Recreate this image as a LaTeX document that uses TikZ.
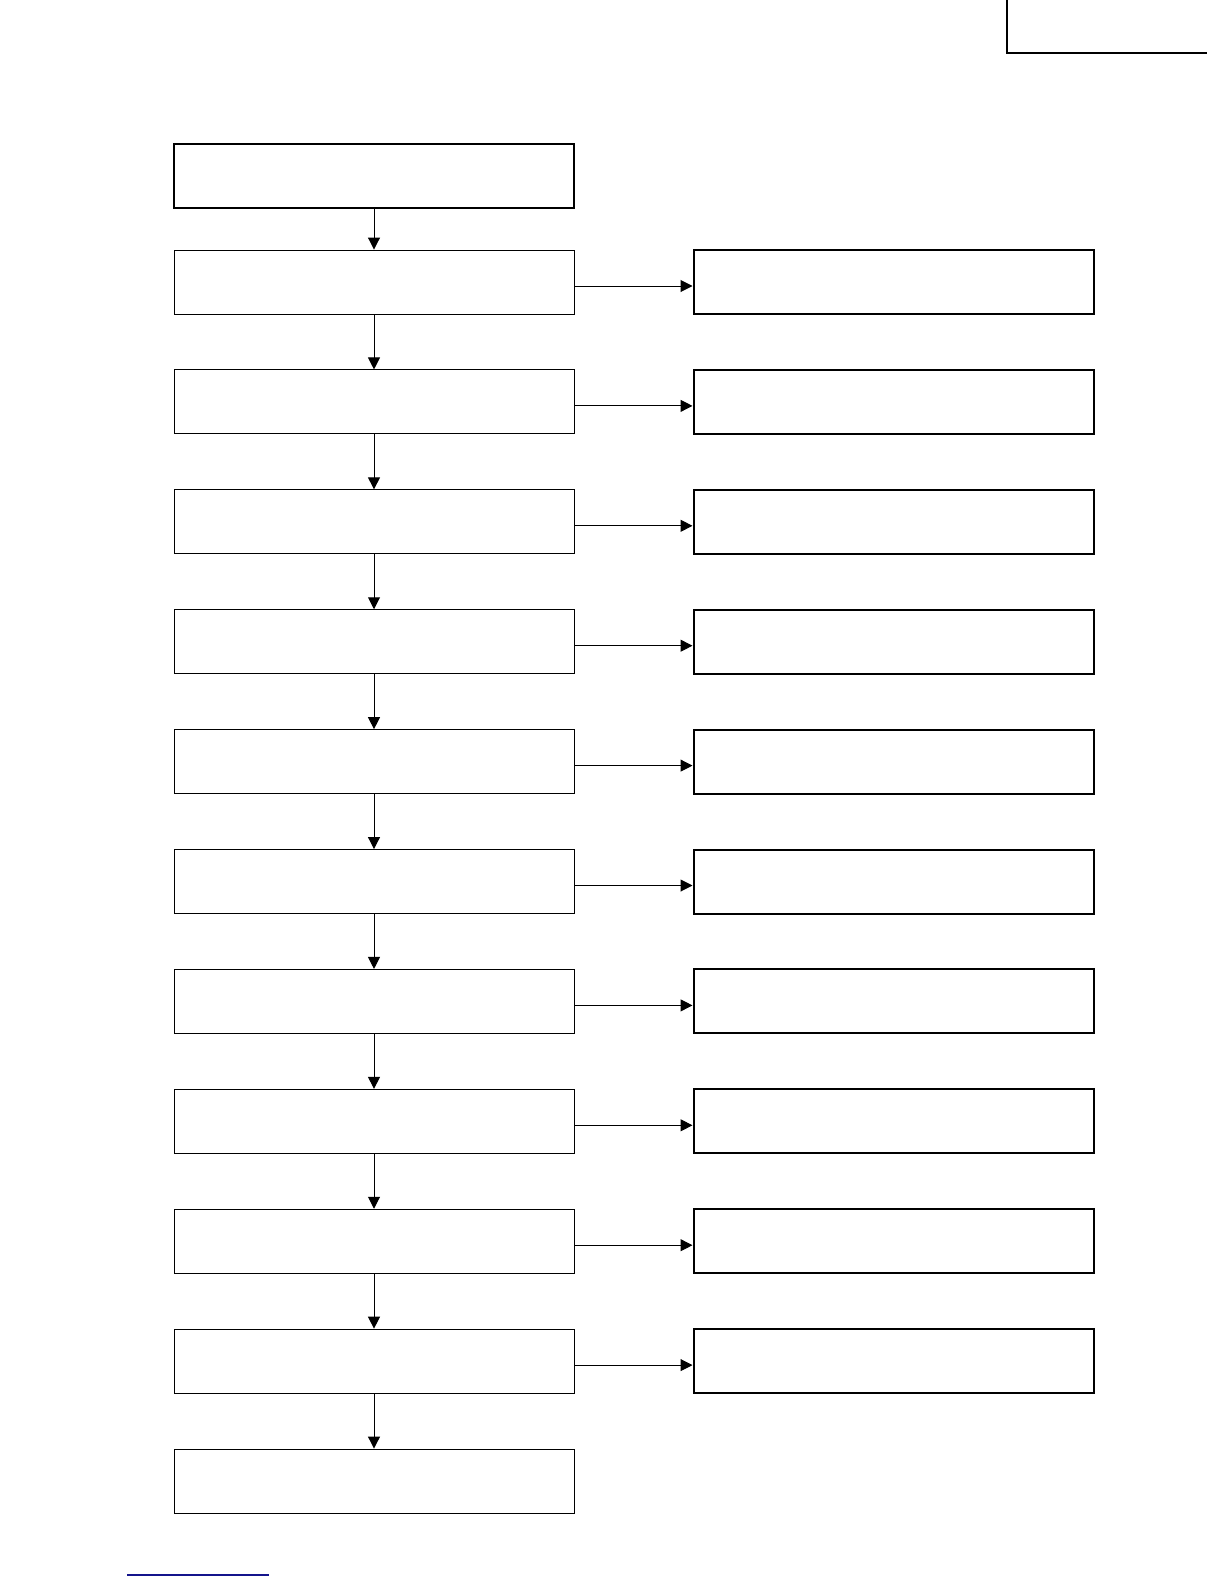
\documentclass[tikz,border=0pt]{standalone}
\usetikzlibrary{arrows.meta}
\definecolor{linkblue}{RGB}{20,20,140}
\begin{document}
\begin{tikzpicture}[x=1pt,y=-1pt,
    stepbox/.style={draw,line width=0.9pt,minimum width=400pt,minimum height=64pt,inner sep=0pt},
    sidebox/.style={stepbox,line width=2pt},
    flow/.style={line width=1pt,-{Triangle[length=12pt,width=12pt]}}]

    \useasboundingbox (0,0) rectangle (1224,1584);

    \draw[line width=2.5pt] (1007,0) -- (1007,53) -- (1207,53);

    \node[stepbox,line width=2.6pt] (l1) at (374,176) {};
    \foreach \i in {2,...,12} {
        \node[stepbox] (l\i) at (374,{282+119.9*(\i-2)}) {};
    }
    \foreach \i in {2,...,11} {
        \node[sidebox] (r\i) at (893.5,{282+119.9*(\i-2)}) {};
    }

    \foreach \i [remember=\i as \j (initially 1)] in {2,...,12} {
        \draw[flow] (l\j) -- (l\i);
    }
    \foreach \i in {2,...,11} {
        \draw[flow] ([yshift=-4pt]l\i.east) -- ([yshift=-4pt]r\i.west);
    }

    \draw[linkblue,line width=1.5pt] (127,1575) -- (269,1575);

\end{tikzpicture}
\end{document}
